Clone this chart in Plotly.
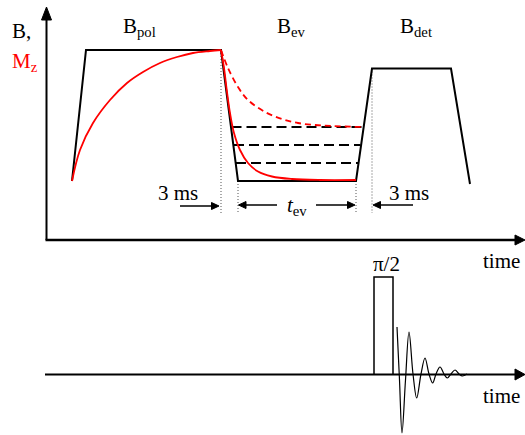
import plotly.graph_objects as go

W, H = 525, 435
FONT = "Liberation Serif"

# ---- field sequence B(t) (schematic, pixel space of the sketch) ----
b_x = [72, 86, 221, 238, 356, 372, 451, 470]
b_y = [181, 50, 50, 181, 181, 68.5, 68.5, 184]

# intermediate evolution field levels (dashed)
lvl_y = [127, 145, 163]
lvl_x0 = [231.5, 234, 236]
lvl_x1 = [363, 360.5, 358]

# magnetisation Mz
mz_rise_x = [72, 80, 93, 110, 127, 143, 160, 177, 193, 210, 221]
mz_rise_y = [181, 150, 123, 100, 83, 72, 63, 57, 53, 51, 50]
mz_fall_x = [221, 224, 227, 230, 234, 240, 248, 258, 272, 292, 320, 356]
mz_fall_y = [50, 68, 92, 113, 133, 150, 163, 171.5, 176.5, 179, 180, 180]
mz_dash_x = [221, 228, 238, 248, 265, 282, 298, 315, 332, 362]
mz_dash_y = [50, 68, 87, 100, 112, 119, 123, 125, 126, 127]

# dotted markers (x, y_top, y_bottom)
dot_x = [221, 238, 356, 372]
dot_top = [50, 181, 181, 68.5]
dot_bot = [213, 213, 213, 213]

# RF pulse and FID
pulse_x = [374, 374, 393, 393]
pulse_y = [374.5, 277, 277, 374.5]
fid_x = [397, 399.5, 402, 405.5, 409, 413, 416.7, 421, 425, 429, 432.7, 436, 440, 444, 447.3, 451, 455, 459, 462.3, 467]
fid_y = [327, 380, 433, 380, 332, 374, 398, 374, 358, 374, 383, 374, 367, 374, 378, 374, 370, 374, 376, 374]

fig = go.Figure()

def line(x, y, color="black", width=2, dash=None, shape="linear"):
    fig.add_trace(go.Scatter(x=x, y=y, mode="lines", hoverinfo="skip",
                             line=dict(color=color, width=width, dash=dash, shape=shape)))

def tri(tip, direction, length, half):
    tx, ty = tip
    dx, dy = direction
    bx, by = tx - dx * length, ty - dy * length
    px, py = -dy, dx
    xs = [tx, bx + px * half, bx - px * half, tx]
    ys = [ty, by + py * half, by - py * half, ty]
    fig.add_trace(go.Scatter(x=xs, y=ys, mode="lines", fill="toself", fillcolor="black",
                             line=dict(color="black", width=1), hoverinfo="skip"))

# axes (upper)
line([46.5, 46.5], [240, 18], width=2)
tri((46.5, 7), (0, -1), 13, 5)
line([45.5, 516], [240, 240], width=2.5)
tri((525, 240), (1, 0), 10, 5)
# axis (lower)
line([45, 516], [374.5, 374.5], width=2)
tri((525, 374.5), (1, 0), 10, 5.5)

# dotted verticals
for xx, t, b in zip(dot_x, dot_top, dot_bot):
    line([xx, xx], [t, b], color="#555555", width=1, dash="1px,2px")

# field
line(b_x, b_y, width=2)
for yy, x0, x1 in zip(lvl_y, lvl_x0, lvl_x1):
    line([x0, x1], [yy, yy], width=2, dash="10px,5px")

# magnetisation
line(mz_rise_x, mz_rise_y, color="red", width=1.8, shape="spline")
line(mz_fall_x, mz_fall_y, color="red", width=1.8, shape="spline")
line(mz_dash_x, mz_dash_y, color="red", width=1.8, dash="6px,4px", shape="spline")

# timing arrows
arrows = [((180, 206), (219, 206)), ((277, 205), (238.5, 205)),
          ((316, 205), (355, 205)), ((413, 205), (373, 205))]
for (x0, y0), (x1, y1) in arrows:
    d = 1 if x1 > x0 else -1
    line([x0, x1 - d * 6], [y0, y1], width=1.5)
    tri((x1, y1), (d, 0), 7.5, 3.5)

# pulse + FID
line(pulse_x, pulse_y, width=1.5)
line(fid_x, fid_y, width=1.2, shape="spline")

def text(x, y, s, color="black", size=21, xanchor="left"):
    fig.add_annotation(x=x, y=y, text=s, showarrow=False, xanchor=xanchor, yanchor="middle",
                       font=dict(family=FONT, size=size, color=color))

text(10, 31, "B,")
text(10, 62, "M<sub>z</sub>", color="red")
text(121, 27, "B<sub>pol</sub>")
text(275, 27, "B<sub>ev</sub>")
text(398, 27, "B<sub>det</sub>")
text(156, 193, "3 ms")
text(387, 193, "3 ms")
text(285, 206, "<i>t</i><sub>ev</sub>")
text(371, 264, "π/2")
text(481, 261, "time")
text(481, 396, "time")

fig.update_layout(width=W, height=H, autosize=False, showlegend=False,
                  margin=dict(l=0, r=0, t=0, b=0),
                  paper_bgcolor="white", plot_bgcolor="white",
                  xaxis=dict(range=[0, W], visible=False, fixedrange=True),
                  yaxis=dict(range=[H, 0], visible=False, fixedrange=True))

fig.write_html("out.html", config={"displayModeBar": False},
               post_script="document.body.style.margin='0';document.body.style.overflow='hidden';")
